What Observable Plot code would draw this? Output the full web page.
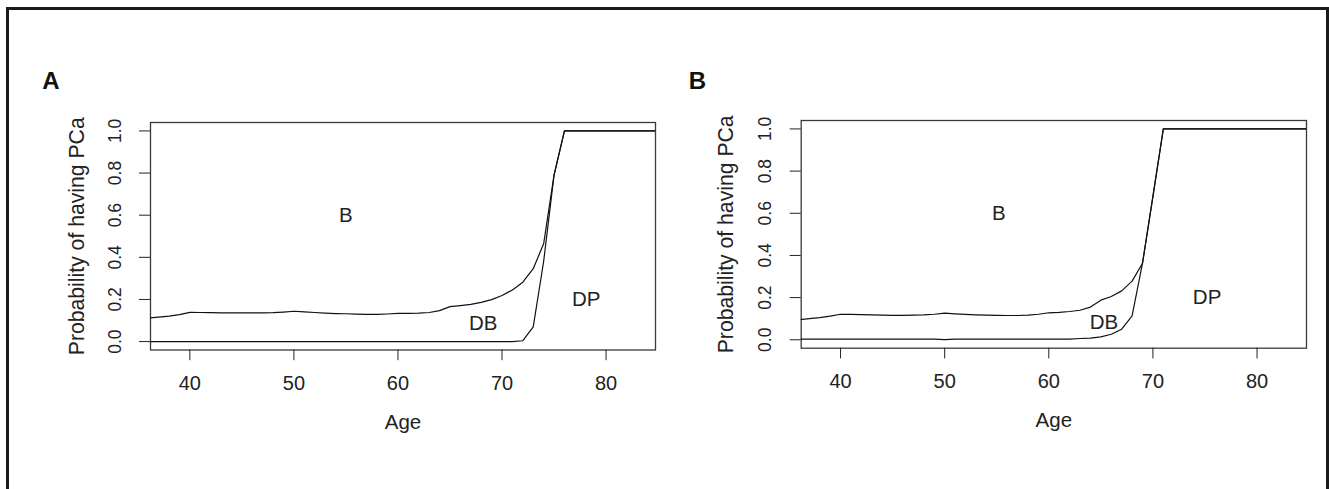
<!DOCTYPE html>
<html><head><meta charset="utf-8">
<script src="https://cdn.jsdelivr.net/npm/d3@7"></script>
<script src="https://cdn.jsdelivr.net/npm/@observablehq/plot@0.6"></script>
<style>
html,body{margin:0;padding:0;background:#fff;overflow:hidden;}
#wrap{position:relative;width:1329px;height:489px;overflow:hidden;font-family:"Liberation Sans",Arial,Helvetica,sans-serif;background:#fff;}
#frame{position:absolute;left:6px;top:6.5px;width:1316.7px;height:600px;border:3px solid #1a1a1a;box-sizing:content-box;pointer-events:none;}
.panel{position:absolute;top:0;}
</style></head>
<body><div id="wrap"><div id="frame"></div></div>
<script>
// Ages (x categories)
const ages = [36,37,38,39,40,41,42,43,44,45,46,47,48,49,50,51,52,53,54,55,56,57,58,59,60,
              61,62,63,64,65,66,67,68,69,70,71,72,73,74,75,76,77,78,79,80,81,82,83,84,85];

// Panel A: boundary B/DB (upper) and DB/DP (lower)
const upperA = [0.112,0.116,0.121,0.128,0.139,0.138,0.137,0.136,0.136,0.136,0.136,0.136,0.137,0.140,0.144,
                0.141,0.138,0.135,0.133,0.132,0.130,0.129,0.129,0.131,0.134,0.134,0.135,0.138,0.147,0.166,
                0.171,0.177,0.186,0.199,0.219,0.245,0.282,0.346,0.464,0.790,
                1,1,1,1,1,1,1,1,1,1];
const lowerA = [0,0,0,0,0,0,0,0,0,0,0,0,0,0,0,0,0,0,0,0,0,0,0,0,0,0,0,0,0,0,0,0,0,0,0,0,
                0.004,0.070,0.380,0.790,
                1,1,1,1,1,1,1,1,1,1];

// Panel B
const upperB = [0.095,0.100,0.105,0.112,0.121,0.120,0.119,0.118,0.117,0.116,0.116,0.117,0.118,0.121,0.126,
                0.123,0.120,0.118,0.117,0.116,0.115,0.115,0.117,0.121,0.128,0.130,0.134,0.140,0.155,0.188,
                0.205,0.232,0.278,0.363,0.680,
                1,1,1,1,1,1,1,1,1,1,1,1,1,1,1];
const lowerB = [0.003,0.003,0.003,0.003,0.003,0.003,0.003,0.003,0.003,0.003,0.003,0.003,0.003,0.003,0.001,
                0.003,0.003,0.003,0.003,0.003,0.003,0.003,0.003,0.003,0.003,0.003,0.003,
                0.006,0.008,0.014,0.026,0.050,0.113,0.363,0.680,
                1,1,1,1,1,1,1,1,1,1,1,1,1,1,1];

// Region labels
const labelText = ["B", "DB", "DP"];
const labelAgeA = [55, 68.2, 78.1];
const labelProbA = [0.6, 0.085, 0.2];
const labelAgeB = [55.2, 65.3, 75.2];
const labelProbB = [0.6, 0.083, 0.2];

const xTicks = [40, 50, 60, 70, 80];
const yTicks = [0, 0.2, 0.4, 0.6, 0.8, 1.0];
const xDomain = [36.22, 84.75];
const yDomain = [-0.04, 1.04];
const xTitle = "Age";
const yTitle = "Probability of having PCa";
const font = '"Liberation Sans", Arial, Helvetica, sans-serif';

function makePanel(p) {
  const rows = ages.map((a, i) => ({age: a, upper: p.upper[i], lower: p.lower[i]}));
  const labs = labelText.map((t, i) => ({t, x: p.labAge[i], y: p.labProb[i]}));
  return Plot.plot({
    width: p.width, height: 489,
    marginLeft: p.ml, marginRight: p.mr, marginTop: p.mt, marginBottom: p.mb,
    style: {fontFamily: font, color: "#222", background: "transparent", overflow: "visible"},
    x: {domain: xDomain},
    y: {domain: yDomain},
    marks: [
      Plot.frame({stroke: "#3a3a3a", strokeWidth: 1.3}),
      Plot.axisX({ticks: xTicks, tickSize: 10.7, tickPadding: 14.8, fontSize: 20, label: null, tickFormat: d => String(d)}),
      Plot.axisY({ticks: yTicks, tickSize: 11, tickRotate: -90, tickPadding: p.yPad, fontSize: 17.5, label: null, tickFormat: d3.format(".1f")}),
      Plot.line(rows, {x: "age", y: "upper", stroke: "#111", strokeWidth: 1.2, clip: true}),
      Plot.line(rows, {x: "age", y: "lower", stroke: "#111", strokeWidth: 1.2, clip: true}),
      Plot.text(labs, {x: "x", y: "y", text: "t", fontSize: 20.5, fill: "#222"}),
      Plot.text([xTitle], {text: d => d, frameAnchor: "bottom", lineAnchor: "bottom", dy: 79, fontSize: 20.5, fill: "#222"}),
      Plot.text([yTitle], {text: d => d, frameAnchor: "left", rotate: -90, textAnchor: "middle", lineAnchor: "bottom", dx: p.ylabDx, fontSize: 21.2, fill: "#222"}),
      Plot.text([p.letter], {text: d => d, frameAnchor: "top-left", textAnchor: "start", lineAnchor: "bottom",
        dx: p.letterDx, dy: p.letterDy, fontSize: 24, fontWeight: "bold", fill: "#111"})
    ]
  });
}

const wrap = document.getElementById("wrap");
const pa = makePanel({letter: "A", upper: upperA, lower: lowerA, labAge: labelAgeA, labProb: labelProbA,
  width: 664, ml: 150, mr: 9, mt: 122, mb: 139.5, yPad: 18.3, ylabDx: -67, letterDx: -108.3, letterDy: -33.7});
pa.classList.add("panel"); pa.style.left = "0px";
const pb = makePanel({letter: "B", upper: upperB, lower: lowerB, labAge: labelAgeB, labProb: labelProbB,
  width: 665, ml: 136.7, mr: 23, mt: 120, mb: 141.3, yPad: 19.7, ylabDx: -68, letterDx: -112.4, letterDy: -31.7});
pb.classList.add("panel"); pb.style.left = "664px";
wrap.insertBefore(pa, wrap.firstChild);
wrap.insertBefore(pb, wrap.firstChild.nextSibling);
</script>
</body></html>
